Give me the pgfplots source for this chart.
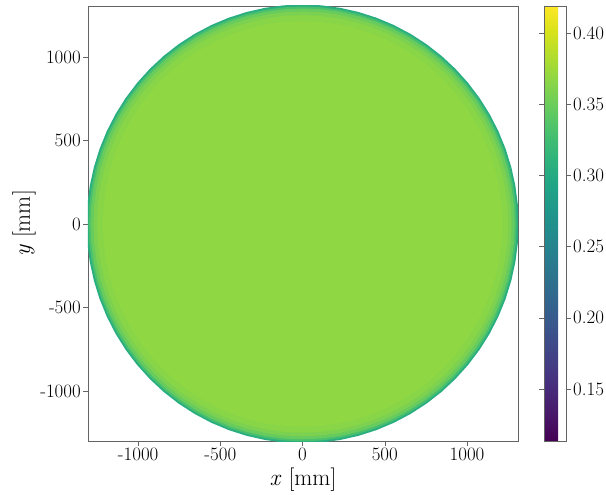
\documentclass[border=0pt]{standalone}
\usepackage{fontspec}
\usepackage{pgfplots}
\usepackage{pgfplotstable}
\pgfplotsset{compat=1.18}
\definecolor{ringA}{RGB}{42,174,128}
\definecolor{ringB}{RGB}{72,192,110}
\definecolor{ringC}{RGB}{103,203,93}
\definecolor{ringD}{RGB}{124,209,80}
\definecolor{ringE}{RGB}{136,213,72}
\definecolor{ringF}{RGB}{143,215,67}
\definecolor{axgray}{RGB}{100,100,100}
% polar table: angle [deg], radii [mm] of the concentric bands of the disk
\pgfplotstableread{
a   r1   r2   r3   r4   r5   r6
0   1314 1302 1290 1272 1250 1215
5   1314 1302 1290 1272 1250 1215
10  1314 1302 1290 1272 1250 1215
15  1314 1302 1290 1272 1250 1215
20  1314 1302 1290 1272 1250 1215
25  1314 1302 1290 1272 1250 1215
30  1314 1302 1290 1272 1250 1215
35  1314 1302 1290 1272 1250 1215
40  1314 1302 1290 1272 1250 1215
45  1314 1302 1290 1272 1250 1215
50  1314 1302 1290 1272 1250 1215
55  1314 1302 1290 1272 1250 1215
60  1314 1302 1290 1272 1250 1215
65  1314 1302 1290 1272 1250 1215
70  1314 1302 1290 1272 1250 1215
75  1314 1302 1290 1272 1250 1215
80  1314 1302 1290 1272 1250 1215
85  1314 1302 1290 1272 1250 1215
90  1314 1302 1290 1272 1250 1215
95  1314 1302 1290 1272 1250 1215
100 1314 1302 1290 1272 1250 1215
105 1314 1302 1290 1272 1250 1215
110 1314 1302 1290 1272 1250 1215
115 1314 1302 1290 1272 1250 1215
120 1314 1302 1290 1272 1250 1215
125 1314 1302 1290 1272 1250 1215
130 1314 1302 1290 1272 1250 1215
135 1314 1302 1290 1272 1250 1215
140 1314 1302 1290 1272 1250 1215
145 1314 1302 1290 1272 1250 1215
150 1314 1302 1290 1272 1250 1215
155 1314 1302 1290 1272 1250 1215
160 1314 1302 1290 1272 1250 1215
165 1314 1302 1290 1272 1250 1215
170 1314 1302 1290 1272 1250 1215
175 1314 1302 1290 1272 1250 1215
180 1314 1302 1290 1272 1250 1215
185 1314 1302 1290 1272 1250 1215
190 1314 1302 1290 1272 1250 1215
195 1314 1302 1290 1272 1250 1215
200 1314 1302 1290 1272 1250 1215
205 1314 1302 1290 1272 1250 1215
210 1314 1302 1290 1272 1250 1215
215 1314 1302 1290 1272 1250 1215
220 1314 1302 1290 1272 1250 1215
225 1314 1302 1290 1272 1250 1215
230 1314 1302 1290 1272 1250 1215
235 1314 1302 1290 1272 1250 1215
240 1314 1302 1290 1272 1250 1215
245 1314 1302 1290 1272 1250 1215
250 1314 1302 1290 1272 1250 1215
255 1314 1302 1290 1272 1250 1215
260 1314 1302 1290 1272 1250 1215
265 1314 1302 1290 1272 1250 1215
270 1314 1302 1290 1272 1250 1215
275 1314 1302 1290 1272 1250 1215
280 1314 1302 1290 1272 1250 1215
285 1314 1302 1290 1272 1250 1215
290 1314 1302 1290 1272 1250 1215
295 1314 1302 1290 1272 1250 1215
300 1314 1302 1290 1272 1250 1215
305 1314 1302 1290 1272 1250 1215
310 1314 1302 1290 1272 1250 1215
315 1314 1302 1290 1272 1250 1215
320 1314 1302 1290 1272 1250 1215
325 1314 1302 1290 1272 1250 1215
330 1314 1302 1290 1272 1250 1215
335 1314 1302 1290 1272 1250 1215
340 1314 1302 1290 1272 1250 1215
345 1314 1302 1290 1272 1250 1215
350 1314 1302 1290 1272 1250 1215
355 1314 1302 1290 1272 1250 1215
360 1314 1302 1290 1272 1250 1215
}\disk
\begin{document}
\begin{tikzpicture}
\begin{axis}[
  name=main,
  scale only axis,
  width=430bp, height=435bp,
  xmin=-1305, xmax=1310, ymin=-1300, ymax=1305,
  xtick={-1000,-500,0,500,1000},
  xticklabels={-1000,-500,0,500,1000},
  ytick={-1000,-500,0,500,1000},
  yticklabels={-1000,-500,0,500,1000},
  tick align=outside,
  xtick pos=left, ytick pos=left,
  major tick length=5bp,
  axis line style={draw=axgray},
  tick style={draw=axgray, line width=0.6pt},
  ticklabel style={font=\fontsize{19}{21}\selectfont},
  xticklabel style={inner sep=2bp},
  yticklabel style={inner sep=2bp},
  label style={font=\fontsize{23.5}{26}\selectfont},
  xlabel={\textit{x} [mm]}, ylabel={\textit{y} [mm]},
  xlabel style={yshift=-1bp},
  ylabel style={yshift=-1bp},
  colormap/viridis,
  point meta min=0.1135, point meta max=0.419,
  colorbar,
  colorbar style={
    at={(parent axis.north east)}, anchor=north west, xshift=17.5bp,
    scale only axis, width=22bp,
    ytick={0.15,0.2,0.25,0.3,0.35,0.4},
    yticklabels={0.15,0.20,0.25,0.30,0.35,0.40},
    yticklabel style={font=\fontsize{19}{21}\selectfont, inner sep=1bp, xshift=1bp},
    tick align=outside, major tick length=5bp,
    axis line style={draw=axgray},
    tick style={draw=axgray, line width=0.6pt},
  },
]
\addplot[draw=none, fill=ringA, data cs=polar] table[x=a, y=r1] {\disk} -- cycle;
\addplot[draw=none, fill=ringB, data cs=polar] table[x=a, y=r2] {\disk} -- cycle;
\addplot[draw=none, fill=ringC, data cs=polar] table[x=a, y=r3] {\disk} -- cycle;
\addplot[draw=none, fill=ringD, data cs=polar] table[x=a, y=r4] {\disk} -- cycle;
\addplot[draw=none, fill=ringE, data cs=polar] table[x=a, y=r5] {\disk} -- cycle;
\addplot[draw=none, fill=ringF, data cs=polar] table[x=a, y=r6] {\disk} -- cycle;
\end{axis}
\pgfresetboundingbox
\path[use as bounding box] ([shift={(-88bp,6bp)}]main.north west) rectangle ([shift={(88bp,-54bp)}]main.south east);
\end{tikzpicture}
\end{document}
